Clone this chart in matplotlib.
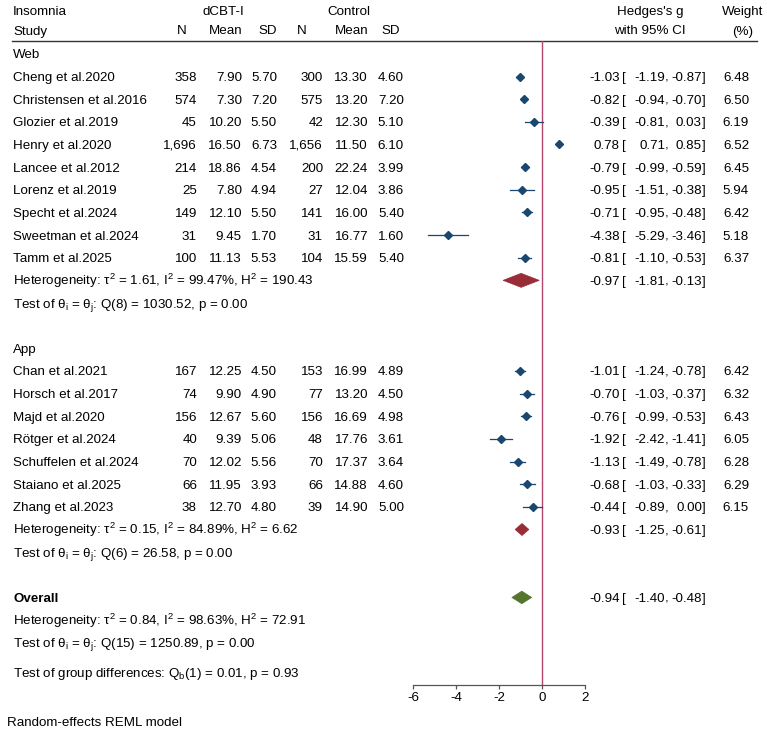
"""
Forest plot: dCBT-I vs control on insomnia, subgrouped by delivery (Web / App).
"""

import matplotlib
matplotlib.use('Agg')
import matplotlib.pyplot as plt
from matplotlib.patches import Polygon

plt.rcParams['font.family'] = ['Liberation Sans', 'DejaVu Sans']
plt.rcParams['mathtext.fontset'] = 'custom'
plt.rcParams['mathtext.rm'] = 'Liberation Sans'
plt.rcParams['mathtext.it'] = 'Liberation Sans:italic'
plt.rcParams['axes.unicode_minus'] = False

# ==========================================
# Data
# ==========================================
WEB_STUDIES = ['Cheng et al.2020', 'Christensen et al.2016', 'Glozier et al.2019',
               'Henry et al.2020', 'Lancee et al.2012', 'Lorenz et al.2019',
               'Specht et al.2024', 'Sweetman et al.2024', 'Tamm et al.2025']
WEB_N1 = [358, 574, 45, 1696, 214, 25, 149, 31, 100]
WEB_MEAN1 = [7.90, 7.30, 10.20, 16.50, 18.86, 7.80, 12.10, 9.45, 11.13]
WEB_SD1 = [5.70, 7.20, 5.50, 6.73, 4.54, 4.94, 5.50, 1.70, 5.53]
WEB_N2 = [300, 575, 42, 1656, 200, 27, 141, 31, 104]
WEB_MEAN2 = [13.30, 13.20, 12.30, 11.50, 22.24, 12.04, 16.00, 16.77, 15.59]
WEB_SD2 = [4.60, 7.20, 5.10, 6.10, 3.99, 3.86, 5.40, 1.60, 5.40]
WEB_G = [-1.03, -0.82, -0.39, 0.78, -0.79, -0.95, -0.71, -4.38, -0.81]
WEB_LO = [-1.19, -0.94, -0.81, 0.71, -0.99, -1.51, -0.95, -5.29, -1.10]
WEB_HI = [-0.87, -0.70, 0.03, 0.85, -0.59, -0.38, -0.48, -3.46, -0.53]
WEB_W = [6.48, 6.50, 6.19, 6.52, 6.45, 5.94, 6.42, 5.18, 6.37]

APP_STUDIES = ['Chan et al.2021', 'Horsch et al.2017', 'Majd et al.2020',
               'Rötger et al.2024', 'Schuffelen et al.2024', 'Staiano et al.2025',
               'Zhang et al.2023']
APP_N1 = [167, 74, 156, 40, 70, 66, 38]
APP_MEAN1 = [12.25, 9.90, 12.67, 9.39, 12.02, 11.95, 12.70]
APP_SD1 = [4.50, 4.90, 5.60, 5.06, 5.56, 3.93, 4.80]
APP_N2 = [153, 77, 156, 48, 70, 66, 39]
APP_MEAN2 = [16.99, 13.20, 16.69, 17.76, 17.37, 14.88, 14.90]
APP_SD2 = [4.89, 4.50, 4.98, 3.61, 3.64, 4.60, 5.00]
APP_G = [-1.01, -0.70, -0.76, -1.92, -1.13, -0.68, -0.44]
APP_LO = [-1.24, -1.03, -0.99, -2.42, -1.49, -1.03, -0.89]
APP_HI = [-0.78, -0.37, -0.53, -1.41, -0.78, -0.33, 0.00]
APP_W = [6.42, 6.32, 6.43, 6.05, 6.28, 6.29, 6.15]

# pooled estimates: [g, lo, hi]
WEB_POOLED = [-0.97, -1.81, -0.13]
APP_POOLED = [-0.93, -1.25, -0.61]
ALL_POOLED = [-0.94, -1.40, -0.48]

WEB_HET = ['1.61', '99.47%', '190.43', '8', '1030.52', '0.00']
APP_HET = ['0.15', '84.89%', '6.62', '6', '26.58', '0.00']
ALL_HET = ['0.84', '98.63%', '72.91', '15', '1250.89', '0.00']
GROUP_DIFF = ['1', '0.01', '0.93']

X_TICKS = [-6, -4, -2, 0, 2]

# ==========================================
# Layout (figure pixels)
# ==========================================
W_PX, H_PX = 767, 733
Y0, STEP = 53.85, 22.65
FS = 9.6
NAVY = '#1A476F'
MAROON = '#982D38'
GREEN = '#55752F'
REFLINE = '#B5476E'
AX_LEFT, AX_RIGHT = 413, 585
AX_TOP, AX_BOTTOM = 41, 685

COL_N1, COL_M1, COL_S1 = 197, 242, 277
COL_N2, COL_M2, COL_S2 = 323, 368, 404
COL_G, COL_LO, COL_HI, COL_W = 620, 665, 702, 749


def row_y(r):
    return Y0 + STEP * r


def txt(ax, x, y, s, ha='left', **kw):
    ax.text(x, y + 4.5, s, ha=ha, va='baseline', fontsize=FS, **kw)


def ci_text(ax, y, g, lo, hi):
    txt(ax, COL_G, y, f'{g:.2f}', ha='right')
    txt(ax, COL_G + 2, y, '[')
    txt(ax, COL_LO, y, f'{lo:.2f}', ha='right')
    txt(ax, COL_LO, y, ',')
    txt(ax, COL_HI, y, f'{hi:.2f}', ha='right')
    txt(ax, COL_HI, y, ']')


def het_text(ax, y, het):
    tau, i2, h2, df, q, p = het
    txt(ax, 13, y, r'Heterogeneity: $\mathrm{\tau^2}$ = ' + tau
        + r', $\mathrm{I^2}$ = ' + i2 + r', $\mathrm{H^2}$ = ' + h2)
    txt(ax, 13, y + STEP, r'Test of $\mathrm{\theta_i}$ = $\mathrm{\theta_j}$: Q(' + df
        + ') = ' + q + ', p = ' + p)


def draw_group(ax_t, ax_f, start, title, names, n1, m1, s1, n2, m2, s2, g, lo, hi, w):
    txt(ax_t, 13, row_y(start), title)
    for i, name in enumerate(names):
        y = row_y(start + 1 + i)
        txt(ax_t, 13, y, name)
        txt(ax_t, COL_N1, y, f'{n1[i]:,}', ha='right')
        txt(ax_t, COL_M1, y, f'{m1[i]:.2f}', ha='right')
        txt(ax_t, COL_S1, y, f'{s1[i]:.2f}', ha='right')
        txt(ax_t, COL_N2, y, f'{n2[i]:,}', ha='right')
        txt(ax_t, COL_M2, y, f'{m2[i]:.2f}', ha='right')
        txt(ax_t, COL_S2, y, f'{s2[i]:.2f}', ha='right')
        ci_text(ax_t, y, g[i], lo[i], hi[i])
        txt(ax_t, COL_W, y, f'{w[i]:.2f}', ha='right')
        ax_f.plot([lo[i], hi[i]], [y, y], color=NAVY, lw=0.9, clip_on=False)
        ax_f.plot(g[i], y, marker='D', ms=4.2, color=NAVY, mec=NAVY, clip_on=False)
    return start + 1 + len(names)


def draw_diamond(ax_t, ax_f, y, pooled, color, half_h):
    g, lo, hi = pooled
    poly = Polygon([(lo, y), (g, y - half_h), (hi, y), (g, y + half_h)],
                   closed=True, facecolor=color, edgecolor=color, lw=0.5, clip_on=False)
    ax_f.add_patch(poly)
    ci_text(ax_t, y, g, lo, hi)


def main():
    fig = plt.figure(figsize=(W_PX / 100, H_PX / 100), dpi=100)
    ax_t = fig.add_axes([0, 0, 1, 1])
    ax_t.set_xlim(0, W_PX)
    ax_t.set_ylim(H_PX, 0)
    ax_t.axis('off')

    ax_f = fig.add_axes([AX_LEFT / W_PX, (H_PX - AX_BOTTOM) / H_PX,
                         (AX_RIGHT - AX_LEFT) / W_PX, (AX_BOTTOM - AX_TOP) / H_PX])
    ax_f.set_xlim(X_TICKS[0], X_TICKS[-1])
    ax_f.set_ylim(AX_BOTTOM, AX_TOP)
    ax_f.patch.set_alpha(0)
    for sp in ['top', 'left', 'right']:
        ax_f.spines[sp].set_visible(False)
    ax_f.spines['bottom'].set_color('#555555')
    ax_f.spines['bottom'].set_linewidth(0.9)
    ax_f.set_yticks([])
    ax_f.set_xticks(X_TICKS)
    ax_f.set_xticklabels([str(t) for t in X_TICKS])
    ax_f.tick_params(axis='x', direction='out', length=3, width=0.9,
                     color='#555555', labelsize=FS, pad=2)
    ax_f.axvline(0, color=REFLINE, lw=1.0, zorder=1)

    # header
    txt(ax_t, 13, 10.7, 'Insomnia')
    txt(ax_t, 13, 30, 'Study')
    txt(ax_t, 223, 10.7, 'dCBT-I', ha='center')
    txt(ax_t, 349, 10.7, 'Control', ha='center')
    for col, lab in [(COL_N1 - 10, 'N'), (COL_M1, 'Mean'), (COL_S1, 'SD'),
                     (COL_N2 - 16, 'N'), (COL_M2, 'Mean'), (COL_S2 - 4, 'SD')]:
        txt(ax_t, col, 30, lab, ha='right')
    txt(ax_t, 650, 10.7, "Hedges's g", ha='center')
    txt(ax_t, 650, 30, 'with 95% CI', ha='center')
    txt(ax_t, 743, 10.7, 'Weight', ha='center')
    txt(ax_t, 743, 30, '(%)', ha='center')
    ax_t.plot([12, 757], [AX_TOP, AX_TOP], color='#333333', lw=1.0)

    # Web
    r = draw_group(ax_t, ax_f, 0, 'Web', WEB_STUDIES, WEB_N1, WEB_MEAN1, WEB_SD1,
                   WEB_N2, WEB_MEAN2, WEB_SD2, WEB_G, WEB_LO, WEB_HI, WEB_W)
    het_text(ax_t, row_y(r), WEB_HET)
    draw_diamond(ax_t, ax_f, row_y(r), WEB_POOLED, MAROON, 7)

    # App
    r = draw_group(ax_t, ax_f, r + 3, 'App', APP_STUDIES, APP_N1, APP_MEAN1, APP_SD1,
                   APP_N2, APP_MEAN2, APP_SD2, APP_G, APP_LO, APP_HI, APP_W)
    het_text(ax_t, row_y(r), APP_HET)
    draw_diamond(ax_t, ax_f, row_y(r), APP_POOLED, MAROON, 6)

    # Overall
    r = r + 3
    txt(ax_t, 13, row_y(r), 'Overall', fontweight='bold')
    draw_diamond(ax_t, ax_f, row_y(r), ALL_POOLED, GREEN, 6.3)
    het_text(ax_t, row_y(r + 1), ALL_HET)
    df, q, p = GROUP_DIFF
    txt(ax_t, 13, row_y(r + 2) + 30, r'Test of group differences: Q$_\mathrm{b}$(' + df
        + ') = ' + q + ', p = ' + p)

    txt(ax_t, 7, 721, 'Random-effects REML model')

    fig.savefig('out.png', dpi=100)
    plt.close()


if __name__ == '__main__':
    main()
